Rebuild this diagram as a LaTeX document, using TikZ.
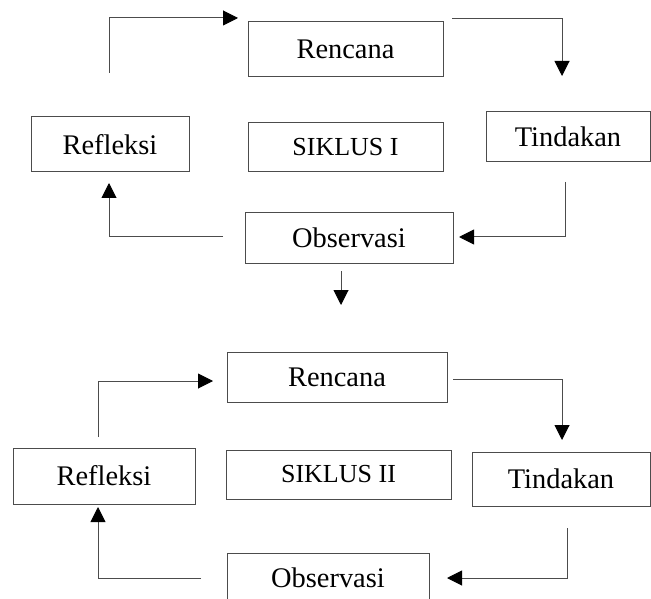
\documentclass[tikz,border=0pt]{standalone}
\usepackage{fontspec}
\setmainfont{Liberation Serif}
\usetikzlibrary{arrows.meta}

\tikzset{
  box/.style={draw=black!70,line width=0.5pt,inner sep=0pt,font=\fontsize{14.2}{17}\selectfont},
  boxdim/.style 2 args={minimum width=#1*0.5pt,minimum height=#2*0.5pt},
  flow/.style={draw=black!70,line width=0.5pt,-{Triangle[length=7.5pt,width=7.5pt,color=black]}}
}

\begin{document}
\begin{tikzpicture}[x=0.5pt,y=-0.5pt]
      \useasboundingbox (0,0) rectangle (651,598);

      % siklus I
      \node[box,boxdim={195}{55}] (ren1) at (345.5,49.5) {Rencana};
      \node[box,boxdim={164}{50}] (tin1) at (568,137) {Tindakan};
      \node[box,boxdim={158}{55}] (ref1) at (110,144.5) {Refleksi};
      \node[box,boxdim={195}{49},font=\fontsize{13}{16}\selectfont] (sik1) at (345.5,147.5) {SIKLUS I};
      \node[box,boxdim={208}{50}] (obs1) at (349,238) {Observasi};

      \coordinate (a1) at (109,73);  \coordinate (a2) at (238,18);
      \coordinate (b1) at (452,19);  \coordinate (b2) at (562,76);
      \coordinate (c1) at (565,182); \coordinate (c2) at (459,237);
      \coordinate (d1) at (223,237); \coordinate (d2) at (109,183);
      \coordinate (e1) at (341,271); \coordinate (e2) at (341,305);

      \draw[flow] (a1) |- (a2);
      \draw[flow] (b1) -| (b2);
      \draw[flow] (c1) |- (c2);
      \draw[flow] (d1) -| (d2);
      \draw[flow] (e1) -- (e2);

      % siklus II
      \node[box,boxdim={220}{50}] (ren2) at (337,377) {Rencana};
      \node[box,boxdim={178}{54}] (tin2) at (561,479) {Tindakan};
      \node[box,boxdim={182}{56}] (ref2) at (104,476) {Refleksi};
      \node[box,boxdim={225}{49},font=\fontsize{13}{16}\selectfont] (sik2) at (338.5,474.5) {SIKLUS II};
      \node[box,boxdim={202}{50}] (obs2) at (328,578) {Observasi};

      \coordinate (f1) at (98,437);  \coordinate (f2) at (213,381);
      \coordinate (g1) at (453,379); \coordinate (g2) at (562,440);
      \coordinate (h1) at (567,528); \coordinate (h2) at (447,578);
      \coordinate (k1) at (201,578); \coordinate (k2) at (98,507);

      \draw[flow] (f1) |- (f2);
      \draw[flow] (g1) -| (g2);
      \draw[flow] (h1) |- (h2);
      \draw[flow] (k1) -| (k2);
\end{tikzpicture}
\end{document}
